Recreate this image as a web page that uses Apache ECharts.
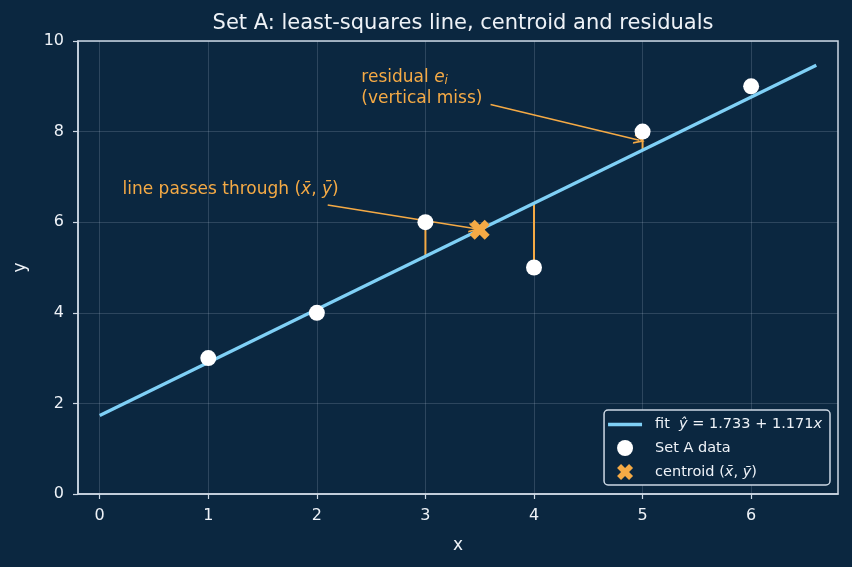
<!DOCTYPE html>
<html>
<head>
<meta charset="utf-8">
<script src="https://cdn.jsdelivr.net/npm/echarts@6/dist/echarts.min.js"></script>
<style>
  html, body { margin: 0; padding: 0; background: #0b2740; }
  #chart { width: 852px; height: 567px; }
</style>
</head>
<body>
<div id="chart"></div>
<script>
// Set A data
const xData = [1, 2, 3, 4, 5, 6];
const yData = [3, 4, 6, 5, 8, 9];
const residualX = [3, 4, 5];       // points whose residual is drawn
const fitRange = [0, 6.6];
const xTicks = [0, 1, 2, 3, 4, 5, 6];
const yTicks = [0, 2, 4, 6, 8, 10];

const orange = '#f5aa45';
const blue = '#7fd0f6';
const axisCol = '#cdd8e4';
const textCol = '#eef2f7';
const font = 'DejaVu Sans';

// least squares
const n = xData.length;
const mx = xData.reduce((a, b) => a + b, 0) / n;
const my = yData.reduce((a, b) => a + b, 0) / n;
let sxy = 0, sxx = 0;
xData.forEach((x, i) => { sxy += (x - mx) * (yData[i] - my); sxx += (x - mx) * (x - mx); });
const slope = sxy / sxx;
const intercept = my - slope * mx;
const fitY = x => intercept + slope * x;

const crossPath = 'path://M5,0 L10,5 L15,0 L20,5 L15,10 L20,15 L15,20 L10,15 L5,20 L0,15 L5,10 L0,5 Z';
const arrowHead = 'path://M5,0 L10,10 L8.2,10 L5,3.6 L1.8,10 L0,10 Z';

const chart = echarts.init(document.getElementById('chart'));

const residualSeries = residualX.map(x => {
    const y = yData[xData.indexOf(x)];
    return {
        type: 'line',
        data: [[x, y], [x, fitY(x)]],
        showSymbol: false,
        silent: true,
        lineStyle: { color: orange, width: 2 },
        z: 2
    };
});

const option = {
    backgroundColor: '#0b2740',
    animation: false,
    title: {
        text: 'Set A: least-squares line, centroid and residuals',
        left: 458,
        textAlign: 'center',
        top: 8,
        textStyle: { color: textCol, fontFamily: font, fontSize: 21, fontWeight: 'normal' }
    },
    grid: {
        left: 78, right: 14, top: 41, bottom: 73,
        show: true,
        borderColor: axisCol,
        borderWidth: 1.5
    },
    xAxis: {
        type: 'value',
        min: -0.2,
        max: 6.8,
        name: 'x',
        nameLocation: 'middle',
        nameGap: 43,
        nameTextStyle: { color: textCol, fontFamily: font, fontSize: 17 },
        axisLine: { show: true, onZero: false, lineStyle: { color: axisCol, width: 1.5 } },
        axisTick: { show: true, inside: false, length: 5, customValues: xTicks, lineStyle: { color: axisCol, width: 1.2 } },
        axisLabel: { customValues: xTicks, color: textCol, fontFamily: font, fontSize: 16, margin: 14 },
        splitLine: { show: true, lineStyle: { color: 'rgba(200,215,235,0.18)', width: 1 } }
    },
    yAxis: {
        type: 'value',
        min: yTicks[0],
        max: yTicks[yTicks.length - 1],
        interval: 2,
        name: 'y',
        nameLocation: 'middle',
        nameGap: 49,
        nameTextStyle: { color: textCol, fontFamily: font, fontSize: 17 },
        axisLine: { show: true, onZero: false, lineStyle: { color: axisCol, width: 1.5 } },
        axisTick: { show: true, inside: false, length: 5, lineStyle: { color: axisCol, width: 1.2 } },
        axisLabel: { color: textCol, fontFamily: font, fontSize: 16, margin: 14 },
        splitLine: { show: true, lineStyle: { color: 'rgba(200,215,235,0.18)', width: 1 } }
    },
    legend: {
        orient: 'vertical',
        right: 22,
        bottom: 82,
        padding: [7, 8, 5, 4],
        itemWidth: 34,
        itemHeight: 16,
        itemGap: 8,
        backgroundColor: '#0b2740',
        borderColor: axisCol,
        borderWidth: 1.5,
        borderRadius: 4,
        textStyle: {
            color: textCol, fontFamily: font, fontSize: 14.5,
            padding: [0, 0, 0, 8],
            rich: { i: { fontStyle: 'italic', fontFamily: font, fontSize: 14.5, color: textCol } }
        },
        data: [
            { name: 'fit', icon: 'path://M0,0 H34 V3.5 H0 Z' },
            { name: 'Set A data', icon: 'circle' },
            { name: 'centroid', icon: crossPath }
        ],
        formatter: function (name) {
            if (name === 'fit') {
                return 'fit  {i|ŷ} = ' + intercept.toFixed(3) + ' + ' + slope.toFixed(3) + '{i|x}';
            }
            if (name === 'centroid') return 'centroid ({i|x̄}, {i|ȳ})';
            return name;
        }
    },
    series: [
        {
            name: 'fit',
            type: 'line',
            data: fitRange.map(x => [x, fitY(x)]),
            showSymbol: false,
            color: blue,
            lineStyle: { color: blue, width: 3.2 },
            z: 3
        },
        ...residualSeries,
        {
            name: 'Set A data',
            type: 'scatter',
            data: xData.map((x, i) => [x, yData[i]]),
            symbolSize: 16,
            color: '#ffffff',
            itemStyle: { color: '#ffffff', opacity: 1 },
            z: 5,
            markLine: {
                silent: true,
                symbol: ['none', arrowHead],
                symbolSize: [10, 11],
                lineStyle: { color: orange, width: 1.5, type: 'solid' },
                label: { show: false },
                data: [
                    [{ coord: [3.6, 8.6] }, { coord: [4.97, 7.81] }],
                    [{ coord: [2.1, 6.38] }, { coord: [3.45, 5.86] }]
                ]
            }
        },
        {
            name: 'centroid',
            type: 'scatter',
            data: [[mx, my]],
            symbol: crossPath,
            symbolSize: 20,
            color: orange,
            itemStyle: { color: orange, opacity: 1 },
            z: 6
        }
    ]
};

option && chart.setOption(option);

// annotation text placed in data coordinates
const notes = [
    { at: [2.41, 9.2], text: 'residual {i|e}{s|i}' },
    { at: [2.41, 8.72], text: '(vertical miss)' },
    { at: [0.21, 6.71], text: 'line passes through ({i|x̄}, {i|ȳ})' }
];
chart.setOption({
    graphic: notes.map(nt => {
        const p = chart.convertToPixel({ gridIndex: 0 }, nt.at);
        return {
            type: 'text',
            x: p[0],
            y: p[1],
            z: 10,
            style: {
                text: nt.text,
                fill: orange,
                font: '17px "DejaVu Sans"',
                verticalAlign: 'middle',
                align: 'left',
                rich: {
                    i: { fontStyle: 'italic', fontFamily: font, fontSize: 17, fill: orange },
                    s: { fontStyle: 'italic', fontFamily: font, fontSize: 12, fill: orange, padding: [8, 0, 0, 0] }
                }
            }
        };
    })
});
</script>
</body>
</html>
